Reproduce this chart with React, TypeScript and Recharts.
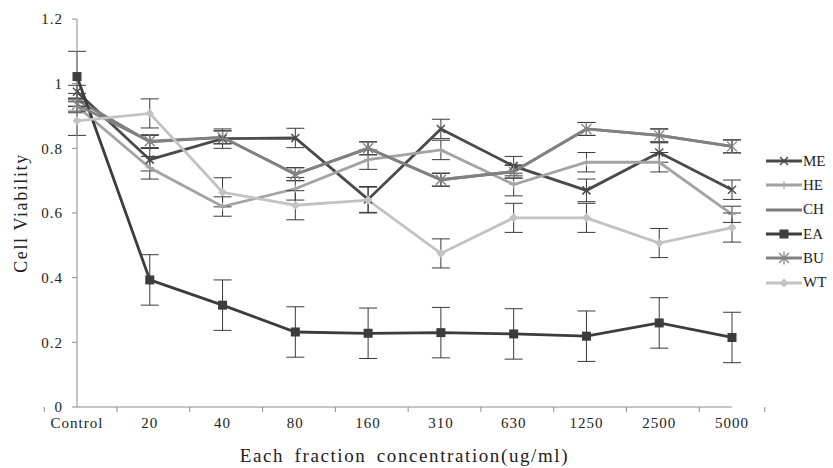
import { LineChart, Line, XAxis, YAxis, ErrorBar, Legend } from 'recharts'

const categories = ['Control', '20', '40', '80', '160', '310', '630', '1250', '2500', '5000']

const me = [0.975, 0.765, 0.83, 0.832, 0.642, 0.86, 0.745, 0.67, 0.787, 0.672]
const meErr = [0.02, 0.035, 0.03, 0.03, 0.04, 0.03, 0.03, 0.035, 0.03, 0.03]
const he = [0.93, 0.74, 0.62, 0.675, 0.765, 0.795, 0.688, 0.757, 0.757, 0.596]
const heErr = [0.02, 0.035, 0.03, 0.035, 0.03, 0.03, 0.035, 0.03, 0.03, 0.025]
const ch = [0.95, 0.82, 0.834, 0.72, 0.8, 0.703, 0.728, 0.86, 0.84, 0.806]
const chErr = [0.02, 0.02, 0.02, 0.02, 0.02, 0.02, 0.02, 0.02, 0.02, 0.02]
const ea = [1.022, 0.393, 0.315, 0.232, 0.228, 0.23, 0.226, 0.219, 0.26, 0.215]
const eaErr = [0.078, 0.078, 0.078, 0.078, 0.078, 0.078, 0.078, 0.078, 0.078, 0.078]
const bu = [0.935, 0.822, 0.834, 0.72, 0.8, 0.703, 0.728, 0.86, 0.84, 0.806]
const buErr = [0.02, 0.02, 0.02, 0.02, 0.02, 0.02, 0.02, 0.02, 0.02, 0.02]
const wt = [0.885, 0.908, 0.664, 0.624, 0.64, 0.475, 0.585, 0.585, 0.507, 0.555]
const wtErr = [0.045, 0.045, 0.045, 0.045, 0.04, 0.045, 0.045, 0.045, 0.045, 0.045]

const yTicks = [0, 0.2, 0.4, 0.6, 0.8, 1, 1.2]

const series = [
  { name: 'ME', values: me, errors: meErr, color: '#4a4a4a', marker: 'x' },
  { name: 'HE', values: he, errors: heErr, color: '#a3a3a3', marker: 'plus' },
  { name: 'CH', values: ch, errors: chErr, color: '#7c7c7c', marker: 'none' },
  { name: 'EA', values: ea, errors: eaErr, color: '#3c3c3c', marker: 'square' },
  { name: 'BU', values: bu, errors: buErr, color: '#818181', marker: 'star' },
  { name: 'WT', values: wt, errors: wtErr, color: '#c2c2c2', marker: 'diamond' },
]

const rows = categories.map((cat, i) => {
  const row: any = { cat }
  series.forEach((s) => {
    row[s.name] = s.values[i]
    row[s.name + 'Err'] = s.errors[i]
  })
  return row
})

const serif = 'Liberation Serif, DejaVu Serif, serif'
const axisColor = '#8c8c8c'
const textColor = '#222'

function Marker({ kind, cx, cy, color }: { kind: string; cx: number; cy: number; color: string }) {
  if (kind === 'x')
    return (
      <g stroke={color} strokeWidth={1.5}>
        <line x1={cx - 4} y1={cy - 4} x2={cx + 4} y2={cy + 4} />
        <line x1={cx - 4} y1={cy + 4} x2={cx + 4} y2={cy - 4} />
      </g>
    )
  if (kind === 'plus')
    return (
      <g stroke={color} strokeWidth={1.2}>
        <line x1={cx - 4} y1={cy} x2={cx + 4} y2={cy} />
        <line x1={cx} y1={cy - 4} x2={cx} y2={cy + 4} />
      </g>
    )
  if (kind === 'square') return <rect x={cx - 4.5} y={cy - 4.5} width={9} height={9} fill={color} />
  if (kind === 'star')
    return (
      <g stroke={color} strokeWidth={1.3}>
        <line x1={cx - 5} y1={cy - 5} x2={cx + 5} y2={cy + 5} />
        <line x1={cx - 5} y1={cy + 5} x2={cx + 5} y2={cy - 5} />
        <line x1={cx} y1={cy - 6.5} x2={cx} y2={cy + 6.5} />
      </g>
    )
  if (kind === 'diamond')
    return <polygon points={`${cx},${cy - 4.5} ${cx + 4.5},${cy} ${cx},${cy + 4.5} ${cx - 4.5},${cy}`} fill={color} />
  return <g />
}

function CategoryTick(props: any) {
  const { x, y, payload, width, visibleTicksCount, index } = props
  const half = width / visibleTicksCount / 2
  return (
    <g>
      <line x1={x - half} y1={y - 5} x2={x - half} y2={y} stroke={axisColor} />
      {index === visibleTicksCount - 1 && (
        <line x1={x + half} y1={y - 5} x2={x + half} y2={y} stroke={axisColor} />
      )}
      <text x={x} y={y + 16} textAnchor="middle" style={{ fontFamily: serif }} fontSize={15} letterSpacing={1} fill={textColor}>
        {payload.value}
      </text>
    </g>
  )
}

function LegendBox() {
  return (
    <div style={{ fontFamily: serif, fontSize: 15, color: textColor }}>
      {series.map((s) => (
        <div key={s.name} style={{ display: 'flex', alignItems: 'center', height: 24.3 }}>
          <svg width={36} height={14}>
            <line x1={0} y1={7} x2={36} y2={7} stroke={s.color} strokeWidth={3} />
            <Marker kind={s.marker} cx={18} cy={7} color={s.color} />
          </svg>
          <span style={{ marginLeft: 1 }}>{s.name}</span>
        </div>
      ))}
    </div>
  )
}

export default function App() {
  return (
    <div style={{ position: 'absolute', left: 0, top: 0, width: 833, height: 468, background: '#fff', fontFamily: serif }}>
      <LineChart width={833} height={468} data={rows} margin={{ top: 19, right: 101, bottom: 0, left: 0 }} style={{ fontFamily: serif }}>
        <XAxis
          dataKey="cat"
          interval={0}
          height={61}
          tickSize={5}
          tickMargin={0}
          tickLine={false}
          axisLine={{ stroke: axisColor }}
          tick={<CategoryTick />}
          label={{
            content: (p: any) => {
              const vb = p.viewBox
              return (
                <text
                  x={vb.x + vb.width / 2}
                  y={462}
                  textAnchor="middle"
                  style={{ fontFamily: serif }}
                  fontSize={19}
                  letterSpacing={1.6}
                  wordSpacing={4}
                  fill={textColor}
                >
                  Each fraction concentration(ug/ml)
                </text>
              )
            },
          }}
        />
        <YAxis
          width={77}
          domain={[0, 1.2]}
          ticks={yTicks}
          interval={0}
          tickSize={5}
          tickMargin={9}
          axisLine={{ stroke: axisColor }}
          tickLine={{ stroke: axisColor }}
          tick={{ style: { fontFamily: serif }, fontSize: 15, fill: textColor, letterSpacing: 1 }}
          label={{
            content: (p: any) => {
              const vb = p.viewBox
              const cy = vb.y + vb.height / 2
              return (
                <text
                  x={27}
                  y={cy}
                  transform={`rotate(-90, 27, ${cy})`}
                  textAnchor="middle"
                  style={{ fontFamily: serif }}
                  fontSize={18}
                  letterSpacing={1.6}
                  fill={textColor}
                >
                  Cell Viability
                </text>
              )
            },
          }}
        />
        <Legend
          layout="horizontal"
          verticalAlign="middle"
          align="center"
          width={67}
          wrapperStyle={{ left: 766, top: 149, width: 67 }}
          content={<LegendBox />}
        />
        {series.map((s) => (
          <Line
            key={s.name}
            dataKey={s.name}
            stroke={s.color}
            strokeWidth={2.8}
            isAnimationActive={false}
            activeDot={false}
            dot={(p: any) => <Marker key={p.index} kind={s.marker} cx={p.cx} cy={p.cy} color={s.color} />}
          >
            <ErrorBar dataKey={s.name + 'Err'} width={9} stroke="#3a3a3a" strokeWidth={1} isAnimationActive={false} />
          </Line>
        ))}
      </LineChart>
    </div>
  )
}
